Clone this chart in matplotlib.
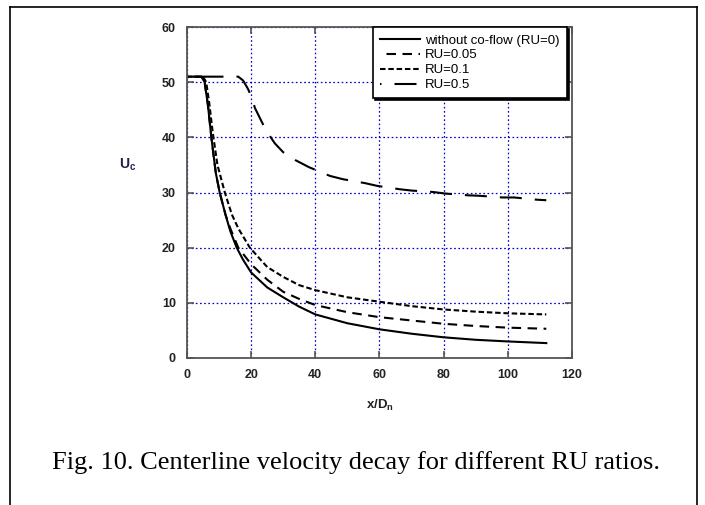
import matplotlib.pyplot as plt
from matplotlib.lines import Line2D

plt.rcParams['font.family'] = ['Liberation Sans', 'DejaVu Sans']
plt.rcParams['lines.scale_dashes'] = False

# centerline velocity data
x_ru0 = [0, 4.5, 5.5, 6.5, 7.7, 9, 10.2, 12, 13.5, 15.5, 17.5, 20, 25, 30, 35, 40, 50, 60, 70, 80, 90, 100, 112]
u_ru0 = [51, 51, 50, 46, 39.5, 33.5, 30, 26, 23, 20, 17.8, 15.5, 12.8, 11, 9.3, 7.9, 6.3, 5.2, 4.4, 3.75, 3.3, 3.0, 2.7]

x_ru005 = [0, 4.5, 5.5, 6.5, 7.7, 9, 10.2, 12, 13.5, 16, 20, 25, 30, 35, 40, 50, 60, 70, 80, 90, 100, 112]
u_ru005 = [51, 51, 50, 46, 39.5, 33.5, 30, 26, 23.5, 20, 17, 14.2, 12, 10.7, 9.6, 8.3, 7.4, 6.8, 6.2, 5.8, 5.5, 5.3]

x_ru01 = [0, 5, 6, 7, 8, 9.5, 11.8, 14, 16, 19.6, 25, 30, 35, 40, 50, 60, 70, 80, 90, 100, 112]
u_ru01 = [51, 51, 50, 46, 41, 35, 30, 26, 23.5, 20, 16.5, 14.7, 13.2, 12.3, 11, 10.2, 9.4, 8.8, 8.4, 8.1, 7.9]

x_ru05 = [0, 16, 17.5, 19, 20, 21.2, 24.6, 27.4, 30, 33.7, 38, 44.6, 48.7, 55.5, 59.3, 66.2, 70, 76.6,
          80.7, 87.4, 91.3, 98.3, 102, 109, 112]
u_ru05 = [51, 51, 50.3, 48.8, 47.5, 45.3, 41.3, 38.9, 37.3, 35.9, 34.6, 33, 32.4, 31.7, 31.2, 30.6, 30.35, 30.1,
          29.8, 29.5, 29.4, 29.1, 29.1, 28.7, 28.6]

labels = ['without co-flow (RU=0)', 'RU=0.05', 'RU=0.1', 'RU=0.5']
x_ticks = [0, 20, 40, 60, 80, 100, 120]
y_ticks = [0, 10, 20, 30, 40, 50, 60]

px = 0.72  # pixel -> point at 100 dpi

fig = plt.figure(figsize=(7.05, 5.05), dpi=100)
ax = fig.add_axes([0.2652, 0.2911, 0.5461, 0.6554])

ax.plot(x_ru0, u_ru0, color='black', lw=1.5, label=labels[0])
ax.plot(x_ru005, u_ru005, color='black', lw=1.5, label=labels[1],
        linestyle=(9.5 * px, (9.5 * px, 6.5 * px)))
ax.plot(x_ru01, u_ru01, color='black', lw=1.5, label=labels[2],
        linestyle=(0, (5.5 * px, 2.8 * px)))
ax.plot(x_ru05, u_ru05, color='black', lw=1.5, label=labels[3],
        linestyle=(20.5 * px, (22 * px, 13 * px)))

ax.set_xlim(0, 120)
ax.set_ylim(0, 60)
ax.set_xticks(x_ticks)
ax.set_yticks(y_ticks)
ax.tick_params(direction='in', top=True, right=True, length=5, width=1.2, color='#555555',
               labelsize=9, pad=8)
for lab in ax.get_xticklabels() + ax.get_yticklabels():
    lab.set_fontweight('bold')
    lab.set_color('#222222')
for sp in ax.spines.values():
    sp.set_color('#555555')
    sp.set_linewidth(1.3)
ax.grid(True, color='#0000cc', linestyle=(0, (1.2, 1.8)), linewidth=0.9)

ax.set_xlabel(r'x/D$_\mathregular{n}$', fontsize=9.5, fontweight='bold', color='#222222', labelpad=12)
ax.set_ylabel(r'U$_\mathregular{c}$', fontsize=10, fontweight='bold', color='#202050',
              rotation=0, va='center', ha='center')
ax.yaxis.set_label_coords(-0.153, 0.585)

leg = ax.legend(loc='upper right', bbox_to_anchor=(0.987, 1.0), borderaxespad=0, fontsize=9.5,
                handlelength=3.0, handletextpad=0.4, labelspacing=0.2, borderpad=0.55,
                fancybox=False, framealpha=1, edgecolor='black',
                shadow={'ox': 1.5, 'oy': -1.5, 'color': 'black', 'alpha': 1})
leg.get_frame().set_linewidth(1.2)

# outer frame of the figure
fig.add_artist(Line2D([10 / 705, 10 / 705], [0, 1 - 7 / 505], transform=fig.transFigure, color='black', lw=1.2))
fig.add_artist(Line2D([10 / 705, 697 / 705], [1 - 7 / 505, 1 - 7 / 505], transform=fig.transFigure,
                      color='black', lw=1.2))
fig.add_artist(Line2D([697 / 705, 697 / 705], [0, 1 - 7 / 505], transform=fig.transFigure, color='black', lw=1.2))

fig.text(356 / 705, 1 - 469 / 505, 'Fig. 10. Centerline velocity decay for different RU ratios.',
         ha='center', va='baseline', fontsize=19, family=['Liberation Serif', 'DejaVu Serif'])

fig.savefig('out.png', dpi=100)
